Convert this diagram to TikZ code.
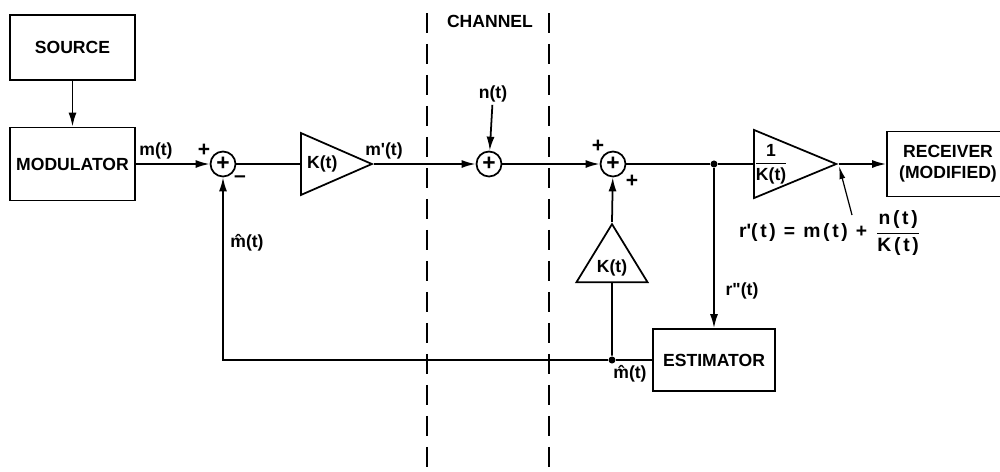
\documentclass[tikz,border=0pt]{standalone}
\usepackage{amsmath}
\usepackage{fontspec}
\setmainfont{Liberation Sans}
\usetikzlibrary{arrows.meta,positioning,shapes.geometric}

\begin{document}
\begin{tikzpicture}[x=0.02cm, y=-0.02cm,
  font=\fontsize{10}{12}\selectfont\bfseries,
  line width=1pt,
  blk/.style={draw, align=center, inner sep=2pt},
  sumnode/.style={draw, circle, minimum size=0.5cm, inner sep=0pt, font=\fontsize{13}{13}\selectfont\bfseries},
  amp/.style={draw, isosceles triangle, isosceles triangle stretches, inner sep=0pt},
  arr/.style={-{Latex[length=2.8mm,width=1.6mm]}},
  thinarr/.style={line width=0.7pt, -{Latex[length=2.6mm,width=1.2mm]}},
  chan/.style={dash pattern=on 0.4cm off 0.22cm},
  jdot/.style={circle, fill, inner sep=0pt, minimum size=4pt},
  lbl/.style={inner sep=1pt},
  sgn/.style={inner sep=1pt, font=\fontsize{12}{12}\selectfont\bfseries}]
\useasboundingbox (0,0) rectangle (1000,471);
% channel boundaries
\draw[chan] (427,13) -- (427,471);
\draw[chan] (549,13) -- (549,471);
\node[lbl] (chlbl) at (490,21) {CHANNEL};
% blocks
\node[blk, minimum width=2.5cm, minimum height=1.3cm] (src) at (72.5,47.5) {SOURCE};
\node[blk, minimum width=2.5cm, minimum height=1.46cm] (mod) at (72.5,164) {MODULATOR};
\node[sumnode] (s1) at (223,164) {+};
\node[amp, minimum width=1.24cm, minimum height=1.42cm, anchor=lower side] (k1) at (300,164) {K(t)\hspace{0.35cm}};
\node[sumnode] (s2) at (489,164) {+};
\node[sumnode] (s3) at (613,164) {+};
\node[jdot] (j1) at (714,164) {};
\node[amp, minimum width=1.2cm, minimum height=1.38cm, anchor=lower side] (kinv) at (753,164)
  {$\dfrac{\text{1}}{\text{K(t)}}$\hspace{0.35cm}};
\node[blk, minimum width=2.44cm, minimum height=1.3cm] (rcv) at (948,164) {RECEIVER\\(MODIFIED)};
\node[amp, shape border rotate=90, minimum width=1.42cm, minimum height=1.16cm, anchor=lower side] (k2) at (612,283) {\raisebox{-0.25cm}{K(t)}};
\node[jdot] (j2) at (612,360) {};
\node[blk, minimum width=2.44cm, minimum height=1.24cm] (est) at (714,360) {ESTIMATOR};
% signal labels
\node[lbl] (mlbl) at (156,151) {m(t)};
\node[sgn] (pa) at (204,150) {+};
\node[sgn] (ma) at (240,179) {--};
\node[lbl] (mplbl) at (384,151) {m\textquotesingle(t)};
\node[lbl] (nlbl) at (493,94) {n(t)};
\node[sgn] (pb) at (598,146) {+};
\node[sgn] (pc) at (632,181) {+};
\node[lbl] (mh1) at (247,243) {\^{m}(t)};
\node[lbl] (rpp) at (742,291) {r\textquotedbl(t)};
\node[lbl] (mh2) at (630,374) {\^{m}(t)};
\node[lbl, font=\fontsize{11}{13}\selectfont\bfseries\addfontfeature{LetterSpace=14}] (eqn) at (830,233)
  {r\textquotesingle(t) = m(t) + $\dfrac{\text{n(t)}}{\text{K(t)}}$};
\coordinate (ptr) at (839,166);
\coordinate (ptrtail) at (852,215);
% connectors
\draw[arr] (src) -- (mod);
\draw[arr] (mod) -- (s1);
\draw (s1) -- (k1.lower side);
\draw[arr] (k1.apex) -- (s2);
\draw[arr] (nlbl) -- (s2);
\draw[arr] (s2) -- (s3);
\draw (s3) -- (j1) -- (kinv.lower side);
\draw[arr] (kinv.apex) -- (rcv);
\draw[arr] (j1) -- (est);
\draw (est) -- (j2);
\draw[arr] (j2) -- (s1 |- j2) -- (s1);
\draw[arr] (j2) -- (k2.lower side) (k2.apex) -- (s3);
\draw[thinarr] (ptrtail) -- (ptr);
\end{tikzpicture}
\end{document}
